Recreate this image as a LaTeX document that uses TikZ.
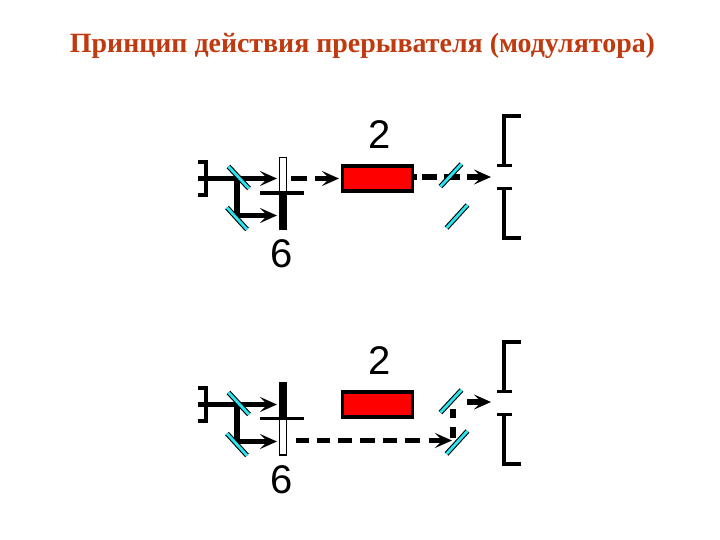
\documentclass[tikz,border=0pt]{standalone}
\usepackage{fontspec}
\setmainfont{Liberation Serif}
\newfontfamily\digitfont{Liberation Sans}
\usetikzlibrary{arrows.meta,calc}
\definecolor{titlered}{RGB}{192,57,15}
\definecolor{mirrorcyan}{RGB}{40,230,240}
\tikzset{
  beam/.style={line width=5.2pt},
  beamarrow/.style={line width=5.2pt,-{Stealth[length=17pt,width=15pt,inset=7.5pt]}},
  lamp/.style={draw=black,line width=3.6pt,fill=red,minimum width=70pt,minimum height=25.5pt,inner sep=0pt},
  numeral/.style={font=\digitfont\fontsize{40}{40}\selectfont,inner sep=0pt},
  slitbar/.style={line width=3.8pt},
  chopwhite/.style={draw=black,line width=1.8pt,fill=white},
  chopblack/.style={fill=black}
}
\newcommand{\mirrorline}[2]{%
  \draw[line width=5pt,black] (#1) -- (#2);
  \draw[line width=2.8pt,mirrorcyan] (#1) -- (#2);
}
\newcommand{\commonpart}{%
  % entrance slit
  \coordinate (s1) at (198,162); \coordinate (s2) at (206,162);
  \coordinate (s3) at (206,195); \coordinate (s4) at (198,195);
  \draw[slitbar,line join=miter] (s1) -- (s2) -- (s3) -- (s4);
  % source beam
  \coordinate (b0) at (198,178.5); \coordinate (b1) at (277,178.5);
  \coordinate (j1) at (237,178.5); \coordinate (j2) at (237,215.5);
  \coordinate (b2) at (277,215.5);
  \draw[beamarrow] (b0) -- (b1);
  \draw[beam] (j1) -- (j2);
  \draw[beamarrow] ($(j2)+(-2.6,0)$) -- (b2);
  % mirrors left
  \coordinate (m1a) at (228.5,166.5); \coordinate (m1b) at (249,188.5);
  \coordinate (m2a) at (227,207.5); \coordinate (m2b) at (247,229.5);
  \mirrorline{m1a}{m1b}
  \mirrorline{m2a}{m2b}
  % lamp and labels
  \node[lamp] (box) at (377.5,178.5) {};
  \node[numeral] (two) at (379.5,135) {2};
  \node[numeral] (six) at (282,254) {6};
  % exit slit
  \coordinate (t1) at (521,116); \coordinate (t2) at (504,116);
  \coordinate (t3) at (504,165.5); \coordinate (t4) at (497,165.5); \coordinate (t5) at (512,165.5);
  \coordinate (u1) at (521,238); \coordinate (u2) at (504,238);
  \coordinate (u3) at (504,188.5); \coordinate (u4) at (497,188.5); \coordinate (u5) at (512,188.5);
  \draw[slitbar] (t1) -- (t2) -- (t3);
  \draw[slitbar] (t4) -- (t5);
  \draw[slitbar] (u1) -- (u2) -- (u3);
  \draw[slitbar] (u4) -- (u5);
}
\begin{document}
\begin{tikzpicture}[x=1pt,y=-1pt]
\useasboundingbox (0,0) rectangle (720,540);
\node[font=\bfseries\fontsize{27.9}{28}\selectfont,text=titlered,inner sep=0pt] (title) at (362.5,46) {Принцип действия прерывателя (модулятора)};

% ---------- upper panel
\begin{scope}[name prefix=top-]
  \coordinate (c1) at (279.5,157.5); \coordinate (c2) at (286.5,192);
  \coordinate (c3) at (279,192); \coordinate (c4) at (287,230);
  \draw[chopwhite] (c1) rectangle (c2);
  \fill[chopblack] (c3) rectangle (c4);
  \commonpart
  \coordinate (x1) at (260,193); \coordinate (x2) at (304,193);
  \draw[line width=3.8pt] (x1) -- (x2);
  % modulated beam (dashed)
  \coordinate (d1) at (291,178.5); \coordinate (d2) at (307,178.5);
  \coordinate (d3) at (315,178.5); \coordinate (d4) at (339,178.5);
  \draw[beam] (d1) -- (d2);
  \draw[beamarrow] (d3) -- (d4);
  \coordinate (e1) at (414,177); \coordinate (e2) at (417,177);
  \coordinate (e3) at (422,177); \coordinate (e4) at (437,177);
  \coordinate (e5) at (444,177); \coordinate (e6) at (460,177);
  \coordinate (e7) at (467,177); \coordinate (e8) at (491,177);
  \draw[beam] (e1) -- (e2);
  \draw[beam] (e3) -- (e4);
  \draw[beam] (e5) -- (e6);
  \draw[beamarrow] (e7) -- (e8);
  \coordinate (m3a) at (440.5,186.5); \coordinate (m3b) at (461.5,164);
  \coordinate (m4a) at (446.5,228); \coordinate (m4b) at (467.5,205);
  \mirrorline{m3a}{m3b}
  \mirrorline{m4a}{m4b}
\end{scope}

% ---------- lower panel
\begin{scope}[shift={(0,226)},name prefix=bot-]
  \coordinate (c1) at (279.5,193); \coordinate (c2) at (286.5,229);
  \coordinate (c3) at (279,156); \coordinate (c4) at (287,192);
  \draw[chopwhite] (c1) rectangle (c2);
  \fill[chopblack] (c3) rectangle (c4);
  \commonpart
  \coordinate (x1) at (260,192.5); \coordinate (x2) at (304,192.5);
  \draw[line width=3.8pt] (x1) -- (x2);
  % exit beam
  \coordinate (e7) at (467,176); \coordinate (e8) at (491,176);
  \draw[beamarrow] (e7) -- (e8);
  % dashed beam
  \coordinate (f1) at (296,214.5); \coordinate (f2) at (309,214.5);
  \coordinate (f3) at (317,214.5); \coordinate (f4) at (330,214.5);
  \coordinate (f5) at (338,214.5); \coordinate (f6) at (352,214.5);
  \coordinate (f7) at (360,214.5); \coordinate (f8) at (375,214.5);
  \coordinate (f9) at (383,214.5); \coordinate (f10) at (397,214.5);
  \coordinate (f11) at (405,214.5); \coordinate (f12) at (420,214.5);
  \coordinate (f13) at (429,214.5); \coordinate (f14) at (452,214.5);
  \draw[beam] (f1) -- (f2);
  \draw[beam] (f3) -- (f4);
  \draw[beam] (f5) -- (f6);
  \draw[beam] (f7) -- (f8);
  \draw[beam] (f9) -- (f10);
  \draw[beam] (f11) -- (f12);
  \draw[beamarrow] (f13) -- (f14);
  \coordinate (g1) at (453,183); \coordinate (g2) at (453,192);
  \coordinate (g3) at (453,201); \coordinate (g4) at (453,212);
  \draw[beam] (g1) -- (g2);
  \draw[beam] (g3) -- (g4);
  \coordinate (m3a) at (440.5,186.5); \coordinate (m3b) at (461.5,164);
  \coordinate (m4a) at (446.5,228); \coordinate (m4b) at (467.5,205);
  \mirrorline{m3a}{m3b}
  \mirrorline{m4a}{m4b}
\end{scope}
\end{tikzpicture}
\end{document}
